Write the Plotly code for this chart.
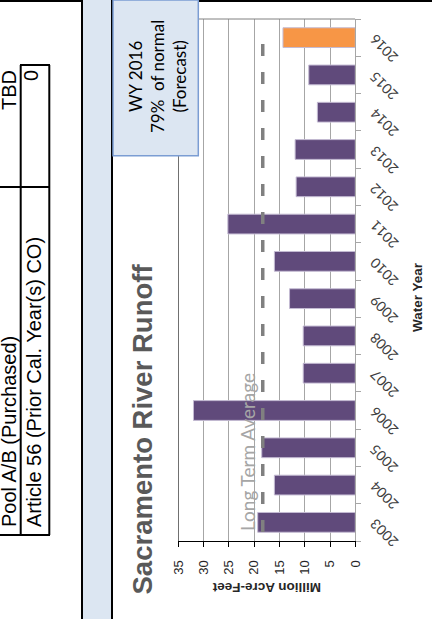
import plotly.graph_objects as go

# ---- data ----
years = ["2003", "2004", "2005", "2006", "2007", "2008", "2009",
         "2010", "2011", "2012", "2013", "2014", "2015", "2016"]
runoff = [19.3, 16.0, 18.5, 32.0, 10.3, 10.3, 13.0,
          16.0, 25.2, 11.7, 11.9, 7.5, 9.2, 14.3]
forecast_year = "2016"
long_term_avg = 18.3
value_ticks = [0, 5, 10, 15, 20, 25, 30, 35]

table_rows = ["Pool A/B (Purchased)", "Article 56 (Prior Cal. Year(s) CO)"]
table_vals = ["TBD", "0"]

W, H = 432, 619
PURPLE = "#604A7B"
ORANGE = "#F79646"
LIGHTBLUE = "#DCE6F2"


def X(px):
    return px / W


def Y(py):
    return 1 - py / H


colors = [ORANGE if y == forecast_year else PURPLE for y in years]

fig = go.Figure()
fig.add_trace(go.Bar(
    x=runoff, y=years, orientation="h",
    marker=dict(color=colors, line=dict(color="#C4BBD3", width=1)),
    hoverinfo="skip", showlegend=False, cliponaxis=False,
))

shapes = []
# background pieces (below)
shapes.append(dict(type="rect", xref="paper", yref="paper", x0=X(82), x1=X(112), y0=0, y1=1,
                   fillcolor=LIGHTBLUE, line=dict(width=0), layer="below"))
for xx in (82, 112):
    shapes.append(dict(type="line", xref="paper", yref="paper", x0=X(xx), x1=X(xx), y0=0, y1=1,
                       line=dict(color="black", width=2), layer="below"))
shapes.append(dict(type="line", xref="paper", yref="paper", x0=0, x1=X(82), y0=Y(1), y1=Y(1),
                   line=dict(color="black", width=2), layer="below"))
shapes.append(dict(type="line", xref="paper", yref="paper", x0=X(112), x1=1, y0=Y(1), y1=Y(1),
                   line=dict(color="black", width=2), layer="below"))
# table lines
for xx in (20.7, 49.3):
    shapes.append(dict(type="line", xref="paper", yref="paper", x0=X(xx), x1=X(xx), y0=Y(65), y1=Y(535),
                       line=dict(color="black", width=2), layer="below"))
shapes.append(dict(type="line", xref="paper", yref="paper", x0=X(20), x1=X(50), y0=Y(65), y1=Y(65),
                   line=dict(color="black", width=2), layer="below"))
for yy in (187, 535):
    shapes.append(dict(type="line", xref="paper", yref="paper", x0=0, x1=X(50), y0=Y(yy), y1=Y(yy),
                       line=dict(color="black", width=2), layer="below"))

# plot frame: top (gray) and left (black)
shapes.append(dict(type="line", xref="x", yref="paper", x0=35, x1=0, y0=Y(19), y1=Y(19),
                   line=dict(color="#808080", width=1)))
shapes.append(dict(type="line", xref="x", yref="paper", x0=35, x1=35, y0=Y(19), y1=Y(541),
                   line=dict(color="black", width=1)))
# long-term average dashed line
shapes.append(dict(type="line", xref="x", yref="y", x0=long_term_avg, x1=long_term_avg,
                   y0=-0.26, y1=12.88,
                   line=dict(color="#808080", width=3.5, dash="12px,16px")))
# forecast callout box
shapes.append(dict(type="rect", xref="paper", yref="paper", x0=X(113), x1=X(198.3), y0=Y(155.7), y1=Y(0),
                   fillcolor=LIGHTBLUE, line=dict(color="#7B9DD3", width=1.5)))

annotations = []
arial = "Liberation Sans, Arial, sans-serif"
calib = "Lato, Open Sans, sans-serif"
# table texts
annotations += [
    dict(text=table_rows[0], x=X(9), y=Y(432), textangle=-90, font=dict(family=arial, size=20, color="black")),
    dict(text=table_rows[1], x=X(34), y=Y(382), textangle=-90, font=dict(family=arial, size=20, color="black")),
    dict(text=table_vals[0], x=X(9), y=Y(90), textangle=-90, font=dict(family=arial, size=20, color="black")),
    dict(text=table_vals[1], x=X(31), y=Y(76), textangle=-90, font=dict(family=arial, size=20, color="black")),
]
# chart title
annotations.append(dict(text="<b>Sacramento River Runoff</b>", x=X(141.5), y=Y(429), textangle=-90,
                        font=dict(family=arial, size=27.5, color="#595959")))
# callout text
annotations.append(dict(text="WY 2016<br>79%  of normal<br>(Forecast)", x=X(157), y=Y(77), textangle=-90,
                        font=dict(family=calib, size=17, color="black")))
# long term average label
annotations.append(dict(text="Long Term Average", x=X(247), y=Y(452), textangle=-90,
                        font=dict(family=calib, size=19, color="#A6A6A6")))
# axis titles
annotations.append(dict(text="<b>Million Acre-Feet</b>", x=X(267), y=Y(588), textangle=180,
                        font=dict(family=arial, size=13.5, color="#262626")))
annotations.append(dict(text="<b>Water Year</b>", x=X(417), y=Y(297), textangle=-90,
                        font=dict(family=arial, size=13.5, color="#262626")))
# year labels placed on the category axis (by category index)
for i, yr in enumerate(years):
    annotations.append(dict(text=yr, xref="paper", yref="y", x=X(384), y=i, yshift=-11,
                            textangle=-135, font=dict(family=calib, size=14, color="#404040")))

for a in annotations:
    a.setdefault("xref", "paper")
    a.setdefault("yref", "paper")
    a.update(showarrow=False, xanchor="center", yanchor="middle")

fig.update_layout(
    width=W, height=H, autosize=False,
    margin=dict(l=0, r=0, t=0, b=0, pad=0, autoexpand=False),
    paper_bgcolor="white", plot_bgcolor="white",
    bargap=0.47,
    showlegend=False,
    hovermode=False,
    shapes=shapes,
    annotations=annotations,
    xaxis=dict(
        domain=[X(178.3), X(355.3)],
        range=[35, 0], autorange=False, automargin=False,
        tickvals=value_ticks, ticktext=[str(v) for v in value_ticks],
        tickangle=-90,
        tickfont=dict(family=arial, size=13, color="#262626"),
        ticks="outside", ticklen=5, tickcolor="black",
        ticklabelstandoff=8,
        showgrid=True, gridcolor="#A6A6A6", gridwidth=1,
        showline=True, linecolor="black", linewidth=1,
        zeroline=False, fixedrange=True,
    ),
    yaxis=dict(
        domain=[Y(541), Y(19)],
        type="category", categoryorder="array", categoryarray=years,
        range=[-0.5, 13.5], autorange=False, automargin=False,
        side="right",
        showticklabels=False,
        ticks="outside", ticklen=5, tickcolor="#A6A6A6", tickson="boundaries",
        showgrid=False,
        showline=True, linecolor="#A6A6A6", linewidth=1,
        zeroline=False, fixedrange=True,
    ),
)

fig.write_html(
    "out.html",
    config={"displayModeBar": False, "responsive": False},
    post_script="document.body.style.margin='0';document.body.style.overflow='hidden';",
)
